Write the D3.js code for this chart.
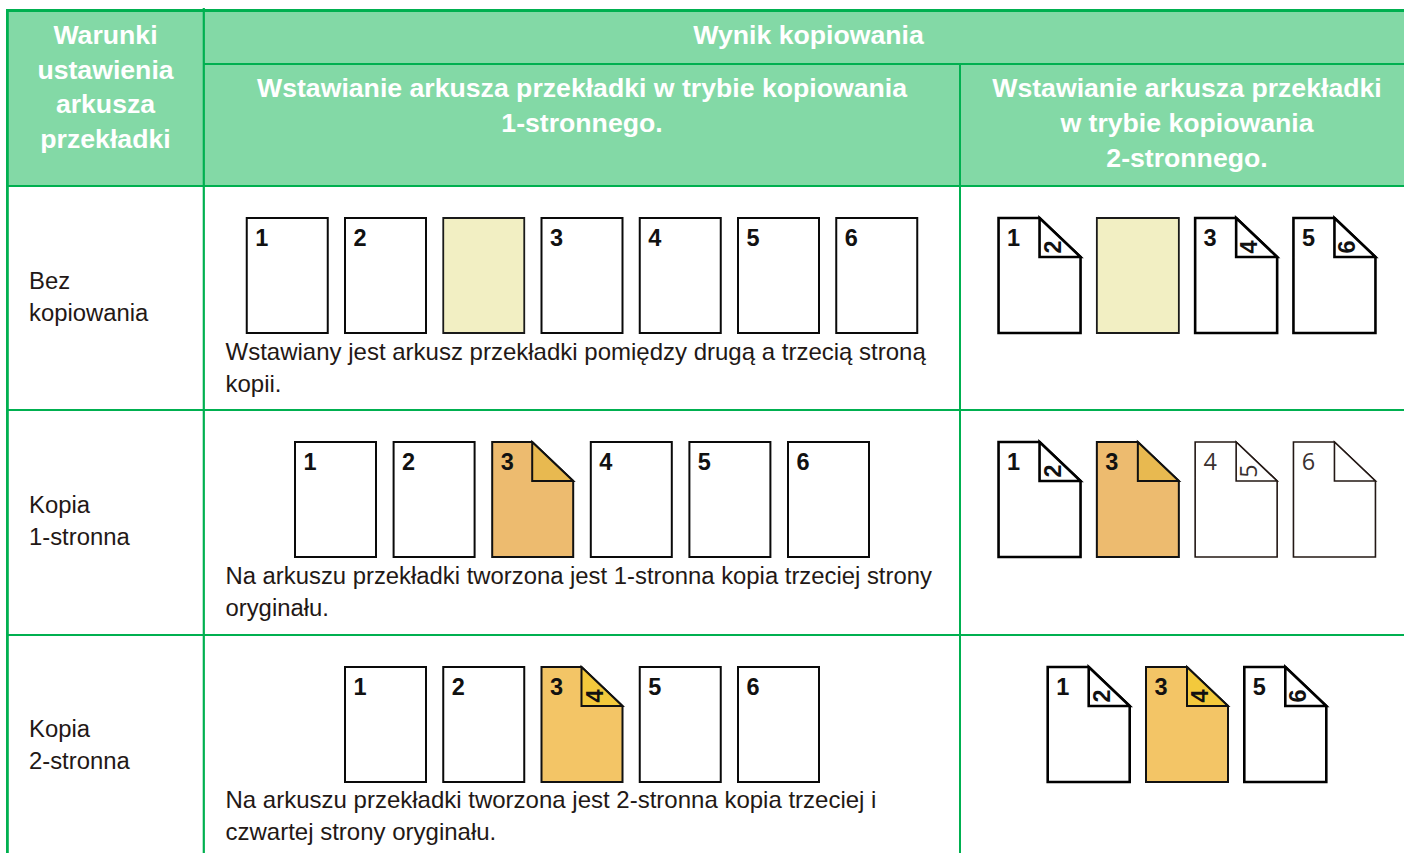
<!DOCTYPE html>
<html><head><meta charset="utf-8">
<script src="https://cdn.jsdelivr.net/npm/d3@7/dist/d3.min.js"></script>
<style>html,body{margin:0;padding:0;background:#fff;overflow:hidden}svg{display:block}text{font-family:"Liberation Sans",Arial,sans-serif}</style>
</head><body><svg id="c" width="1404" height="853"></svg>
<script>
const conditionHeader = ["Warunki","ustawienia","arkusza","przekładki"];
const resultHeader = "Wynik kopiowania";
const oneSidedHeader = ["Wstawianie arkusza przekładki w trybie kopiowania","1-stronnego."];
const twoSidedHeader = ["Wstawianie arkusza przekładki","w trybie kopiowania","2-stronnego."];
const categories = [["Bez","kopiowania"],["Kopia","1-stronna"],["Kopia","2-stronna"]];
const descriptions = [
  ["Wstawiany jest arkusz przekładki pomiędzy drugą a trzecią stroną","kopii."],
  ["Na arkuszu przekładki tworzona jest 1-stronna kopia trzeciej strony","oryginału."],
  ["Na arkuszu przekładki tworzona jest 2-stronna kopia trzeciej i","czwartej strony oryginału."]
];
// page: [front, back, kind]; back null = single sheet, "" = blank back
const oneSidedPages = [
  [["1",null,"plain"],["2",null,"plain"],["",null,"insert"],["3",null,"plain"],["4",null,"plain"],["5",null,"plain"],["6",null,"plain"]],
  [["1",null,"plain"],["2",null,"plain"],["3","","orange"],["4",null,"plain"],["5",null,"plain"],["6",null,"plain"]],
  [["1",null,"plain"],["2",null,"plain"],["3","4","gold"],["5",null,"plain"],["6",null,"plain"]]
];
const twoSidedPages = [
  [["1","2","heavy"],["",null,"insert"],["3","4","heavy"],["5","6","heavy"]],
  [["1","2","heavy"],["3","","orange"],["4","5","light"],["6","","light"]],
  [["1","2","heavy"],["3","4","gold"],["5","6","heavy"]]
];

const svg = d3.select("#c");
const GREEN="#00b050", HEAD="#83d9a6";
const styles = {
  plain:{fill:"#fff",flap:"#fff",sw:2,stroke:"#0a0a0a",weight:"bold",font:"Liberation Sans",col:"#111"},
  heavy:{fill:"#fff",flap:"#fff",sw:2.6,stroke:"#000",weight:"bold",font:"Liberation Sans",col:"#111"},
  light:{fill:"#fff",flap:"#fff",sw:1.6,stroke:"#231815",weight:"normal",font:"Open Sans",col:"#3a3130"},
  insert:{fill:"#f2efc3",flap:"#f2efc3",sw:1.8,stroke:"#1a1a1a",weight:"bold",font:"Liberation Sans",col:"#111"},
  orange:{fill:"#edbb6f",flap:"#e8b950",sw:2,stroke:"#111",weight:"bold",font:"Liberation Sans",col:"#111"},
  gold:{fill:"#f3c566",flap:"#f3c93c",sw:2,stroke:"#111",weight:"bold",font:"Liberation Sans",col:"#111"}
};

svg.append("rect").attr("x",8).attr("y",10).attr("width",1396).attr("height",176).attr("fill",HEAD);
const rules=[[7.5,10.5,1404,10.5,3],[7.4,9,7.4,853,2.8],[203.8,8,203.8,853,2.2],[960,64,960,853,2],[204,64,1404,64,2],[8,186,1404,186,2],[8,410,1404,410,2],[8,635,1404,635,2]];
svg.selectAll("line.r").data(rules).join("line").attr("class","r")
  .attr("x1",d=>d[0]).attr("y1",d=>d[1]).attr("x2",d=>d[2]).attr("y2",d=>d[3])
  .attr("stroke",GREEN).attr("stroke-width",d=>d[4]);

function lines(arr,x,y0,lh,anchor,opts){
  svg.selectAll(null).data(arr).join("text").attr("x",x).attr("y",(d,i)=>y0+i*lh)
    .attr("text-anchor",anchor).attr("font-size",opts.size).attr("font-weight",opts.weight||"normal")
    .attr("fill",opts.fill).text(d=>d);
}
const hdr={size:26.65,weight:"bold",fill:"#fff"};
lines(conditionHeader,105.5,43.6,34.9,"middle",hdr);
lines([resultHeader],808.5,43.5,0,"middle",hdr);
lines(oneSidedHeader,582,97,35,"middle",hdr);
lines(twoSidedHeader,1187,97,35,"middle",hdr);

const rowTop=[186,410,635];
const textTop=[186,410,634];
const descSizes=[24,23.85,24];
categories.forEach((c,i)=>lines(c,29,textTop[i]+103,32,"start",{size:23.85,fill:"#231815"}));
descriptions.forEach((c,i)=>lines(c,225.5,textTop[i]+174,32.4,"start",{size:descSizes[i],fill:"#231815"}));

const F=41;
const H=115;
function drawRow(pages,cx,top,W,step){
  const x=d3.scaleBand().domain(d3.range(pages.length)).range([cx-pages.length*step/2,cx+pages.length*step/2]);
  const g=svg.append("g").selectAll("g").data(pages).join("g")
    .attr("transform",(d,i)=>`translate(${x(i)+(step-W)/2},${top})`);
  const outline=d3.line();
  g.append("path").attr("d",d=>d[1]===null
      ? outline([[0,0],[W,0],[W,H],[0,H]])+"Z"
      : outline([[0,0],[W-F,0],[W,F-2],[W,H],[0,H]])+"Z")
    .attr("fill",d=>styles[d[2]].fill).attr("stroke",d=>styles[d[2]].stroke)
    .attr("stroke-width",d=>styles[d[2]].sw).attr("stroke-linejoin","miter");
  const fold=g.filter(d=>d[1]!==null);
  fold.append("path").attr("d",outline([[W-F,0],[W,F-2],[W-F,F-2]])+"Z")
    .attr("fill",d=>styles[d[2]].flap).attr("stroke",d=>styles[d[2]].stroke)
    .attr("stroke-width",d=>styles[d[2]].sw);
  g.append("text").attr("x",15).attr("y",28).attr("text-anchor","middle").attr("font-size",23.5)
    .attr("font-weight",d=>styles[d[2]].weight).style("font-family",d=>styles[d[2]].font)
    .attr("fill",d=>styles[d[2]].col).text(d=>d[0]);
  fold.append("text").attr("transform",`translate(${W-20},${F-12}) rotate(-90)`)
    .attr("text-anchor","middle").attr("font-size",23.5)
    .attr("font-weight",d=>styles[d[2]].weight).style("font-family",d=>styles[d[2]].font)
    .attr("fill",d=>styles[d[2]].col).text(d=>d[1]);
}
const leftSteps=[98.25,98.6,98.25];
rowTop.forEach((t,i)=>{
  drawRow(oneSidedPages[i],582,t+32,81,leftSteps[i]);
  drawRow(twoSidedPages[i],1187,t+32,82,98.3);
});
</script></body></html>
